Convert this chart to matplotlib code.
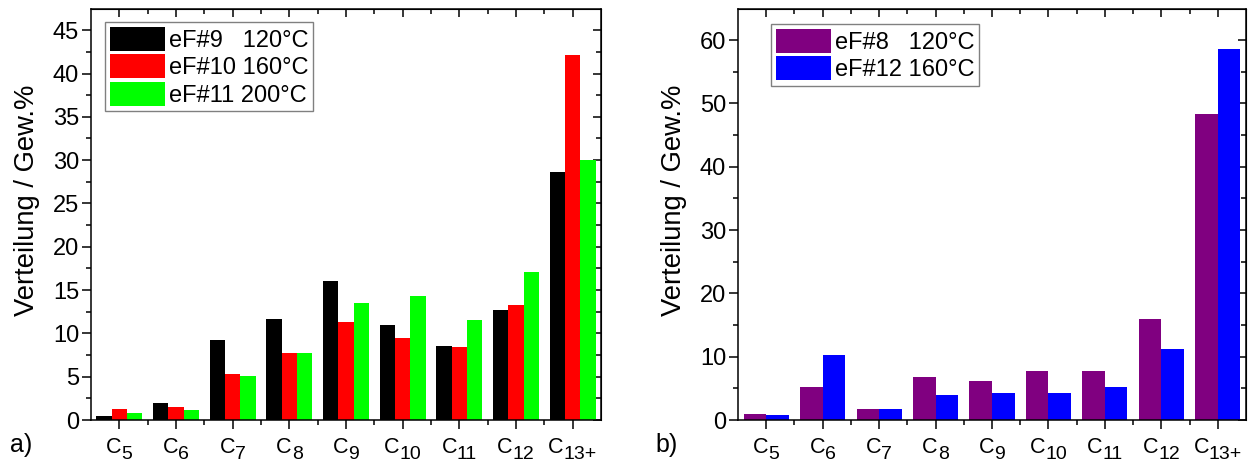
import numpy as np
import matplotlib
matplotlib.use("Agg")
import matplotlib.pyplot as plt

plt.rcParams["font.family"] = ["Liberation Sans", "DejaVu Sans"]

categories = ["5", "6", "7", "8", "9", "10", "11", "12", "13+"]

# panel a)
ef9_120 = [0.45, 2.0, 9.2, 11.7, 16.1, 11.0, 8.6, 12.65, 28.6]
ef10_160 = [1.27, 1.46, 5.3, 7.73, 11.3, 9.46, 8.42, 13.27, 42.15]
ef11_200 = [0.77, 1.15, 5.08, 7.73, 13.46, 14.35, 11.5, 17.04, 30.0]
labels_a = ["eF#9   120°C", "eF#10 160°C", "eF#11 200°C"]
colors_a = ["#000000", "#ff0000", "#00ff00"]

# panel b)
ef8_120 = [0.9, 5.16, 1.68, 6.8, 6.1, 7.74, 7.8, 15.9, 48.26]
ef12_160 = [0.8, 10.3, 1.8, 3.9, 4.2, 4.26, 5.16, 11.2, 58.6]
labels_b = ["eF#8   120°C", "eF#12 160°C"]
colors_b = ["#800080", "#0000ff"]

FS = 17
W, H = 1250, 465
fig = plt.figure(figsize=(W / 100, H / 100), dpi=100)
cat_texts = []


def make_axes(x0, x1, y0=9, y1=420):
    ax = fig.add_axes([x0 / W, 1 - y1 / H, (x1 - x0) / W, (y1 - y0) / H])
    ax._px_width = x1 - x0
    return ax


def style_axes(ax, ymax, ymajor):
    x = np.arange(len(categories))
    ax.set_xlim(-0.5, len(categories) - 0.5)
    ax.set_ylim(0, ymax)
    ax.set_xticks(x)
    ax.set_xticklabels([])
    ax.set_xticks(x[:-1] + 0.5, minor=True)
    ax.set_yticks(np.arange(0, ymax, ymajor))
    ax.set_yticks(np.arange(0, ymax, ymajor / 2), minor=True)
    ax.tick_params(axis="both", which="major", direction="out", length=6.5, width=1.1, labelsize=FS)
    ax.tick_params(axis="both", which="minor", direction="out", length=3.5, width=1.1)
    ax.tick_params(axis="y", pad=2)
    for s in ax.spines.values():
        s.set_linewidth(1.1)
    # inward ticks on the top and right spines
    top = ax.secondary_xaxis("top")
    top.set_xticks(x)
    top.set_xticks(x[:-1] + 0.5, minor=True)
    top.set_xticklabels([])
    top.tick_params(which="major", direction="in", length=6, width=1.1)
    top.tick_params(which="minor", direction="in", length=3.5, width=1.1)
    right = ax.secondary_yaxis("right")
    right.set_yticks(np.arange(0, ymax, ymajor))
    right.set_yticks(np.arange(0, ymax, ymajor / 2), minor=True)
    right.set_yticklabels([])
    right.tick_params(which="major", direction="in", length=6, width=1.1)
    right.tick_params(which="minor", direction="in", length=3.5, width=1.1)
    ax.set_ylabel("Verteilung / Gew.%", fontsize=19.7)
    ax.yaxis.set_label_coords(-51 / ax._px_width, (420 - 200) / 411)
    # category labels: C with a large subscript
    for i, c in enumerate(categories):
        t1 = ax.annotate("C", xy=(i, 0), xycoords=("data", "axes fraction"),
                         xytext=(0, -12.5), textcoords="offset points",
                         ha="right", va="top", fontsize=15.5)
        t2 = ax.annotate(c, xy=(i, 0), xycoords=("data", "axes fraction"),
                         xytext=(0, -18.5), textcoords="offset points",
                         ha="left", va="top", fontsize=14)
        cat_texts.append((t1, t2))


def add_legend(ax, x, y):
    leg = ax.legend(loc="upper left", bbox_to_anchor=(x, y), borderaxespad=0,
                    fontsize=FS, handlelength=2.35, handleheight=1.2,
                    labelspacing=0.1, borderpad=0.2, handletextpad=0.15,
                    fancybox=False, framealpha=1, edgecolor="#808080")
    leg.get_frame().set_linewidth(1.0)


# panel a
ax1 = make_axes(91, 601)
x = np.arange(len(categories))
wa = 0.27
for i, (vals, lab, col) in enumerate(zip([ef9_120, ef10_160, ef11_200], labels_a, colors_a)):
    ax1.bar(x + (i - 1) * wa, vals, width=wa, color=col, label=lab, linewidth=0)
style_axes(ax1, 47.45, 5)
add_legend(ax1, (105 - 91) / 510, (420 - 22) / 411)

# panel b
ax2 = make_axes(738, 1246)
wb = 0.4
for i, (vals, lab, col) in enumerate(zip([ef8_120, ef12_160], labels_b, colors_b)):
    ax2.bar(x + (i - 0.5) * wb, vals, width=wb, color=col, label=lab, linewidth=0)
style_axes(ax2, 64.9, 10)
add_legend(ax2, (771 - 738) / 508, (420 - 24) / 411)

fig.text(10 / W, 8 / H, "a)", fontsize=FS + 1, va="bottom", ha="left")
fig.text(655 / W, 8 / H, "b)", fontsize=FS + 1, va="bottom", ha="left")

# centre each "C" + subscript pair under its tick
fig.canvas.draw()
r = fig.canvas.get_renderer()
for t1, t2 in cat_texts:
    w1 = t1.get_window_extent(r).width
    w2 = t2.get_window_extent(r).width
    shift = (w1 - w2) / 2 * 72 / fig.dpi
    t1.xyann = (shift, t1.xyann[1])
    t2.xyann = (shift, t2.xyann[1])

fig.savefig("out.png", dpi=100)
